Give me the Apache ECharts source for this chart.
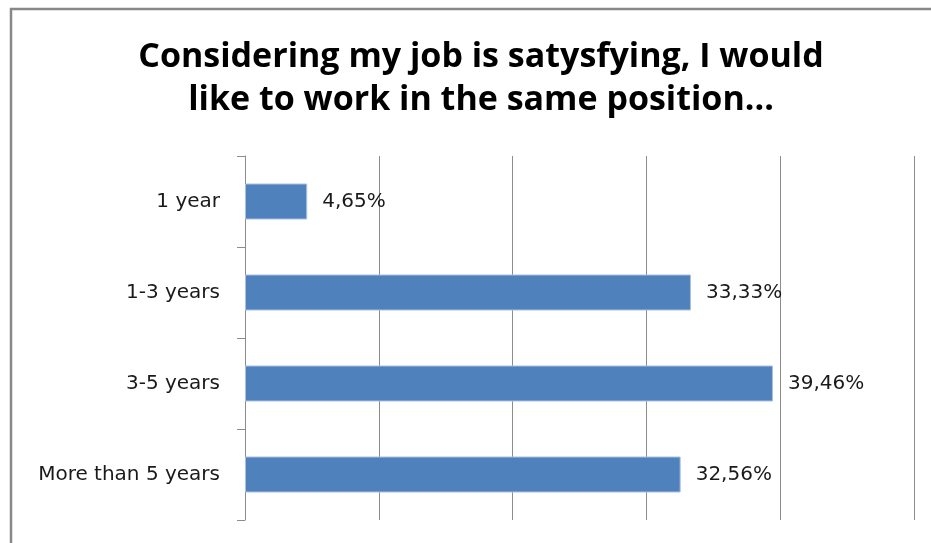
<!DOCTYPE html>
<html>
<head>
<meta charset="utf-8">
<script src="https://cdn.jsdelivr.net/npm/echarts@6/dist/echarts.min.js"></script>
<style>
html,body{margin:0;padding:0;background:#fff;}
#chart{width:931px;height:543px;}
</style>
</head>
<body>
<div id="chart"></div>
<script>
const titleText = "Considering my job is satysfying, I would\nlike to work in the same position...";
const categories = ["1 year", "1-3 years", "3-5 years", "More than 5 years"];
const values = [4.65, 33.33, 39.46, 32.56];
const valueLabels = ["4,65%", "33,33%", "39,46%", "32,56%"];
const axisMax = 50;
const axisInterval = 10;

const chart = echarts.init(document.getElementById('chart'), null, {renderer: 'canvas'});
chart.setOption({
  backgroundColor: '#ffffff',
  animation: false,
  title: {
    text: titleText,
    left: 476,
    textAlign: 'center',
    top: 31,
    textStyle: {
      fontFamily: 'Open Sans',
      fontWeight: 'bold',
      fontSize: 34,
      lineHeight: 43,
      color: '#000000'
    }
  },
  graphic: [{
    type: 'rect',
    shape: {x: 11, y: 9, width: 940, height: 560},
    style: {fill: 'none', stroke: '#888888', lineWidth: 2.5},
    silent: true
  }],
  grid: {left: 245, right: 17, top: 156, bottom: 23, containLabel: false},
  xAxis: {
    type: 'value',
    min: 0,
    max: axisMax,
    interval: axisInterval,
    axisLabel: {show: false},
    axisLine: {show: false},
    axisTick: {show: false},
    splitLine: {show: true, lineStyle: {color: '#8c8c8c', width: 1}}
  },
  yAxis: {
    type: 'category',
    data: categories,
    inverse: true,
    axisLine: {show: true, lineStyle: {color: '#8c8c8c', width: 1}},
    axisTick: {show: true, length: 8, inside: false, lineStyle: {color: '#8c8c8c'}},
    axisLabel: {
      margin: 25,
      fontFamily: 'DejaVu Sans',
      fontSize: 20,
      color: '#1a1a1a'
    }
  },
  series: [{
    type: 'bar',
    data: values,
    barWidth: 36,
    itemStyle: {color: '#4F81BD', borderColor: '#a9c1e0', borderWidth: 1},
    label: {
      show: true,
      position: 'right',
      distance: 15,
      fontFamily: 'DejaVu Sans',
      fontSize: 20,
      color: '#1a1a1a',
      formatter: function (p) { return valueLabels[p.dataIndex]; }
    }
  }]
});
</script>
</body>
</html>
